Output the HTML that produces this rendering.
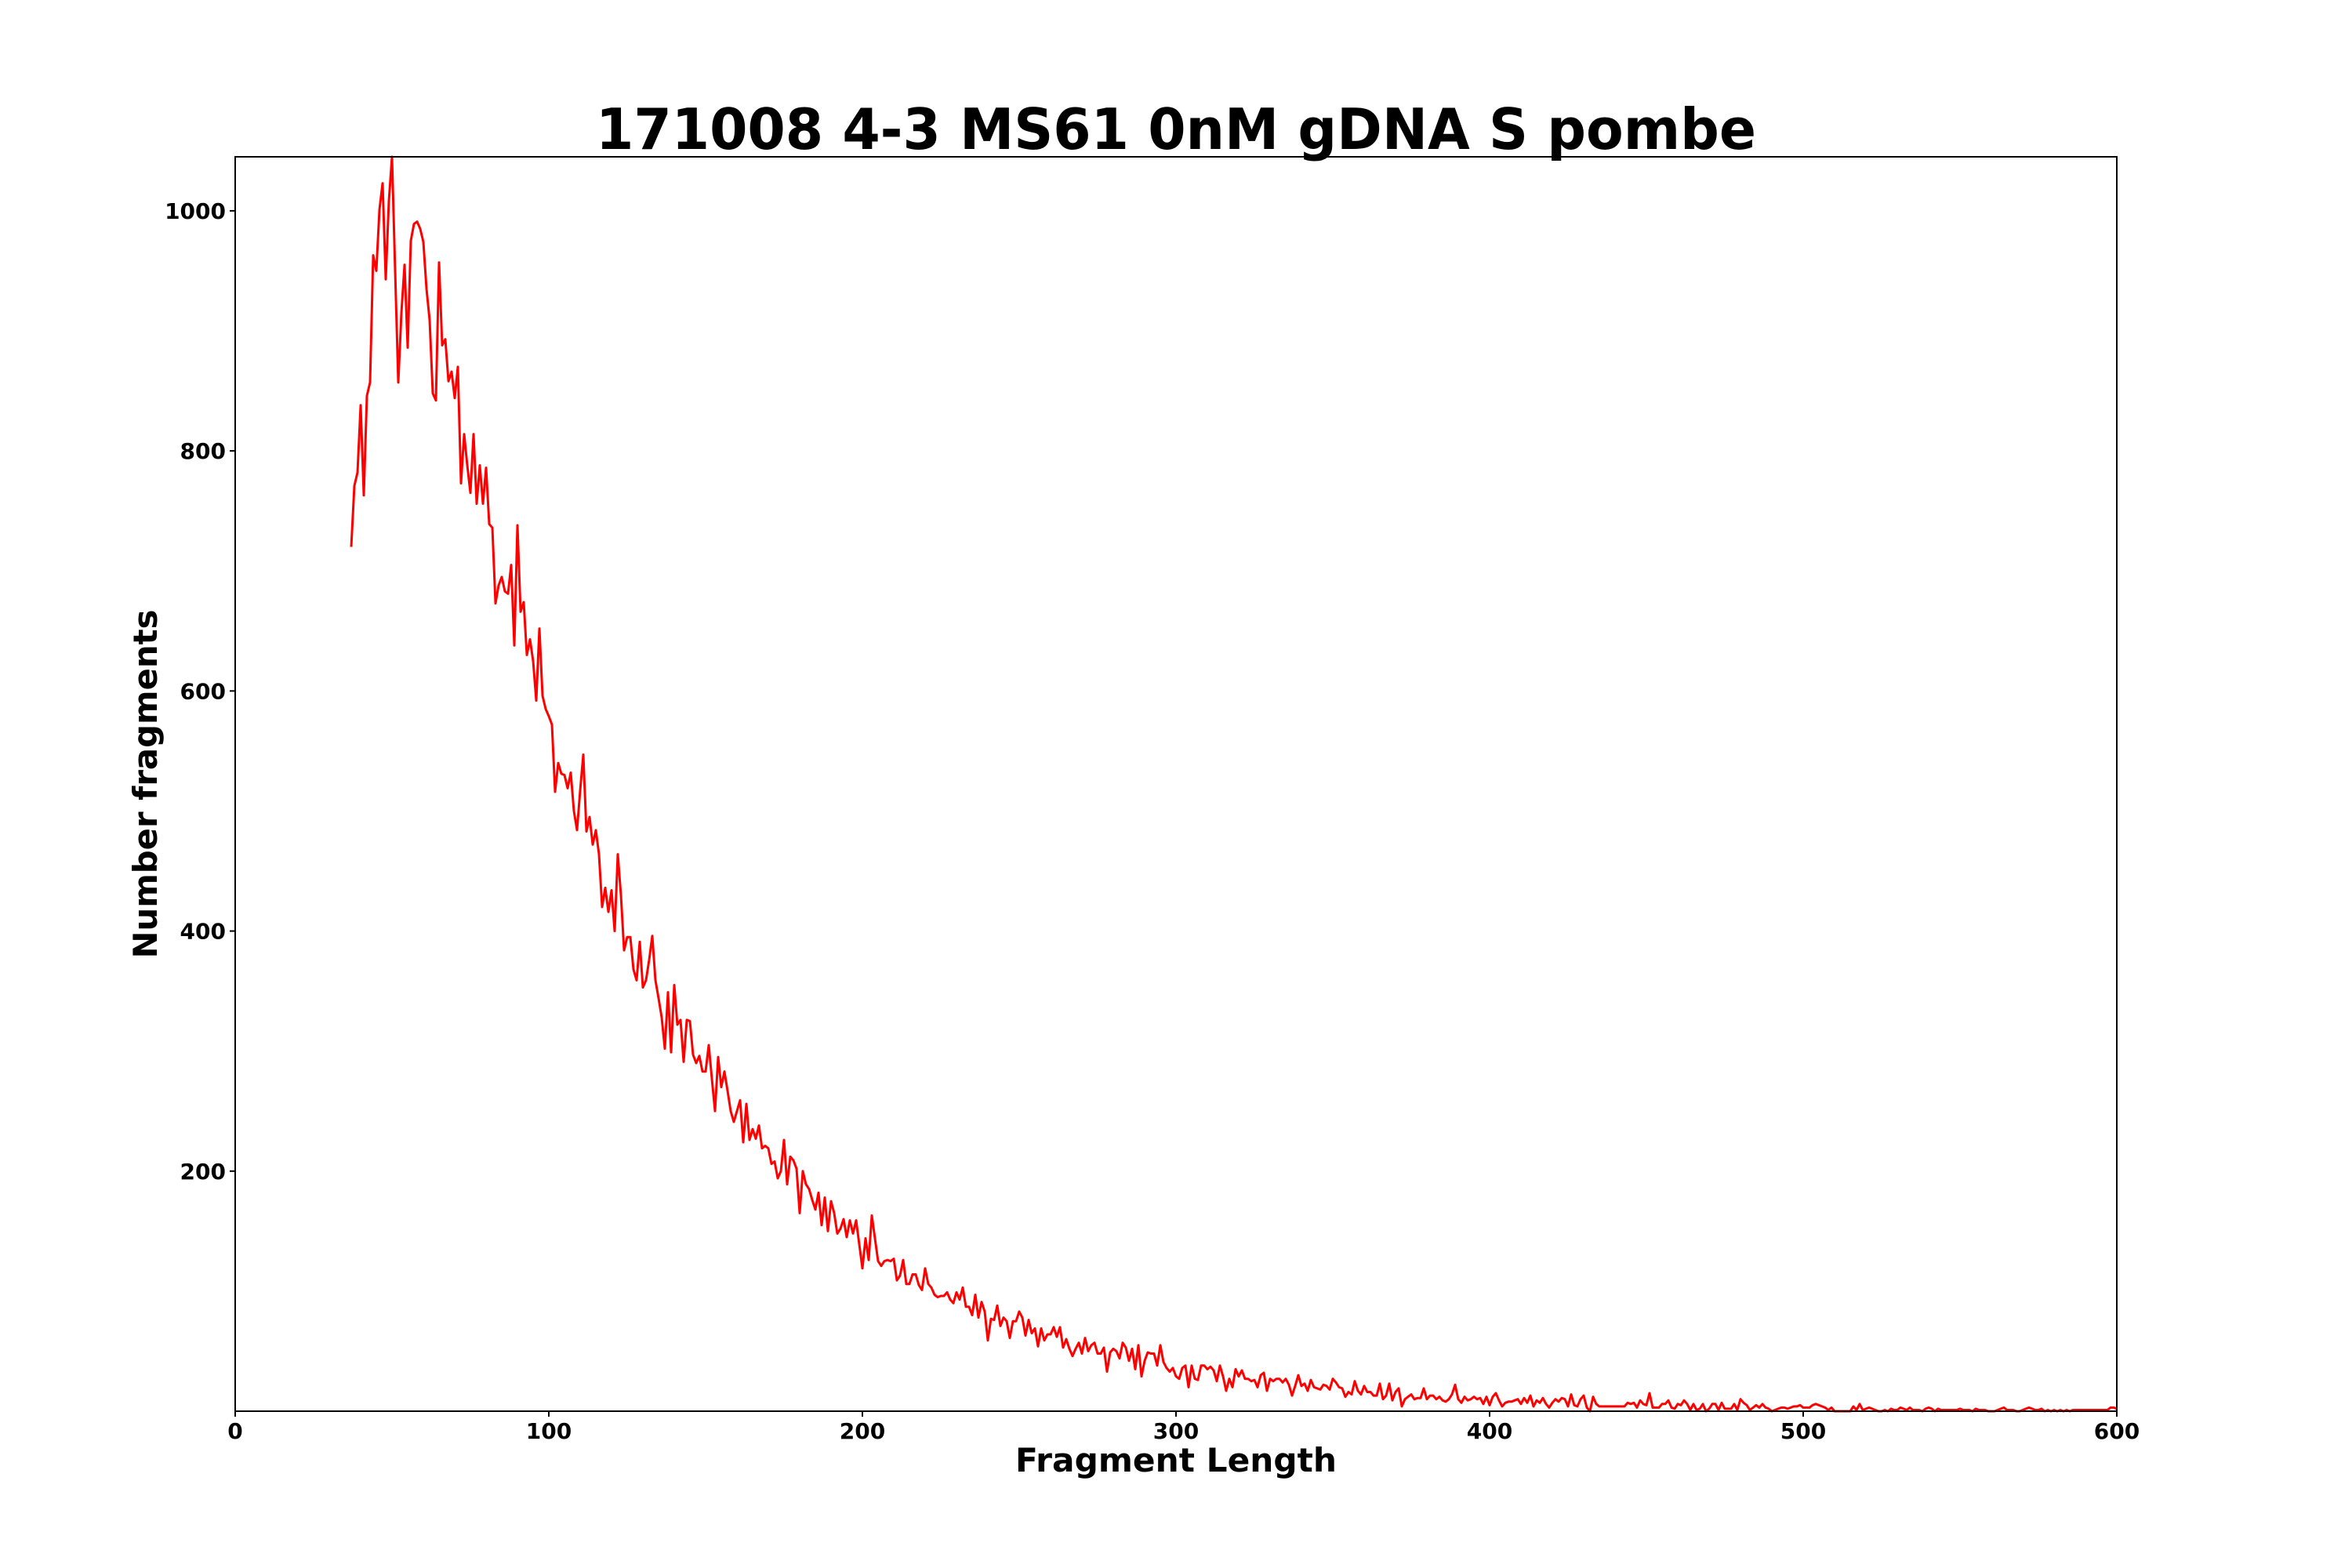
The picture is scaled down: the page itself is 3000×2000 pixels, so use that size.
<!DOCTYPE html>
<html><head><meta charset="utf-8"><style>
html,body{margin:0;padding:0;background:#fff;}
svg{display:block;font-family:"DejaVu Sans","Liberation Sans",sans-serif;font-weight:bold;}
</style></head><body>
<svg id="chart" width="3000" height="2000" viewBox="0 0 3000 2000" xmlns="http://www.w3.org/2000/svg">
<rect width="3000" height="2000" fill="#fff"/>
<text x="1500" y="190" font-size="72" text-anchor="middle" textLength="1480" lengthAdjust="spacingAndGlyphs">171008 4-3 MS61 0nM gDNA S pombe</text>
<g id="ticks"></g>
<path id="series" fill="none" stroke="#ff0000" stroke-width="3" stroke-linejoin="round"/>
<rect x="300" y="200" width="2400" height="1600" fill="none" stroke="#000" stroke-width="2"/>
<text x="1500" y="1877" font-size="42" text-anchor="middle" textLength="410" lengthAdjust="spacingAndGlyphs">Fragment Length</text>
<text x="0" y="0" font-size="42" text-anchor="middle" transform="translate(200,1000) rotate(-90)" textLength="445" lengthAdjust="spacingAndGlyphs">Number fragments</text>
</svg>
<script>
const xStart = 37;
const counts = [720,771,782,838,763,846,857,963,950,1001,1023,943,1008,1045,950,857,915,955,886,975,989,991,985,974,935,909,848,842,957,888,893,858,866,844,870,773,814,788,765,814,756,788,756,786,739,736,673,688,695,683,681,705,638,738,666,674,630,643,625,592,652,596,585,579,572,516,540,531,530,519,532,500,484,517,547,483,495,472,484,464,420,436,416,434,400,464,430,384,395,395,368,359,391,353,359,376,396,359,344,328,302,349,299,355,322,326,291,326,325,297,290,296,283,283,305,277,250,295,270,283,267,250,241,250,259,224,256,226,235,227,238,219,221,219,206,208,194,200,226,189,212,209,202,165,200,189,185,176,168,182,155,178,150,175,165,148,152,160,145,159,148,159,139,119,144,126,163,144,125,121,125,126,125,127,109,113,126,106,106,114,114,105,101,119,106,103,97,95,96,96,99,93,90,99,93,103,87,87,80,97,78,91,83,59,77,76,88,71,78,75,61,75,75,83,78,63,76,65,69,54,69,59,64,64,70,62,70,53,60,52,46,52,57,48,61,50,55,57,48,48,53,33,49,52,50,44,57,53,42,52,35,55,29,42,49,48,48,38,55,41,36,33,36,29,27,36,38,20,38,27,26,38,38,35,37,34,25,38,29,17,27,20,35,29,34,27,27,25,26,20,30,32,17,27,25,27,27,24,27,22,13,21,30,21,23,17,26,20,19,18,22,21,18,27,24,20,19,12,16,14,25,17,14,21,16,16,13,13,23,10,13,23,9,16,19,4,10,12,14,10,11,11,19,10,13,13,10,12,9,8,10,14,22,10,7,12,9,10,12,10,11,6,12,5,12,15,9,4,7,8,8,9,10,6,11,7,13,4,9,7,11,6,3,7,10,8,11,10,4,14,5,4,10,13,3,0,12,6,4,4,4,4,4,4,4,4,4,7,6,7,3,9,6,5,15,3,3,3,6,6,9,3,2,6,5,9,6,1,6,1,2,6,0,2,6,6,1,7,2,2,2,6,1,10,7,5,1,3,5,3,6,3,2,0,1,2,3,3,2,3,4,4,5,3,3,3,5,6,5,4,3,1,3,0,0,0,0,0,0,4,1,6,1,2,3,2,1,0,0,1,0,2,1,1,3,2,1,3,1,1,1,0,2,3,2,0,2,1,1,1,1,1,1,2,1,1,1,0,2,1,1,1,0,0,0,1,2,3,1,1,1,0,0,1,2,3,2,1,1,2,0,1,0,1,0,1,0,1,0,1,1,1,1,1,1,1,1,1,1,1,1,3,3,2];
const xTicks = [0,100,200,300,400,500,600];
const yTicks = [200,400,600,800,1000];
const xMin = 0, xMax = 600, yMin = 0, yMax = 1045;
const L = 300, R = 2700, T = 200, B = 1800;
function sx(v){ return L + (v - xMin) / (xMax - xMin) * (R - L); }
function sy(v){ return B - (v - yMin) / (yMax - yMin) * (B - T); }
const NS = "http://www.w3.org/2000/svg";
const g = document.getElementById('ticks');
function mk(tag, attrs){ const e = document.createElementNS(NS, tag); for (const k in attrs) e.setAttribute(k, attrs[k]); return e; }
xTicks.forEach(v => {
  const t = mk('line', {x1: sx(v), x2: sx(v), y1: B, y2: B + 7, stroke: '#000', 'stroke-width': 2});
  
  
  g.appendChild(t);
  const lb = mk('text', {x: sx(v), y: B + 35, 'font-size': 28, 'text-anchor': 'middle'});
  
  
  lb.textContent = v;
  g.appendChild(lb);
});
yTicks.forEach(v => {
  const t = mk('line', {x1: L - 7, x2: L, y1: sy(v), y2: sy(v), stroke: '#000', 'stroke-width': 2});
  
  
  g.appendChild(t);
  const lb = mk('text', {x: L - 12, y: sy(v) + 10, 'font-size': 28, 'text-anchor': 'end'});
  
  
  lb.textContent = v;
  g.appendChild(lb);
});
let d = '';
counts.forEach((c, i) => { d += (i ? 'L' : 'M') + sx(xStart + i).toFixed(1) + ',' + sy(c).toFixed(1); });
document.getElementById('series').setAttribute('d', d);
</script>
</body></html>
